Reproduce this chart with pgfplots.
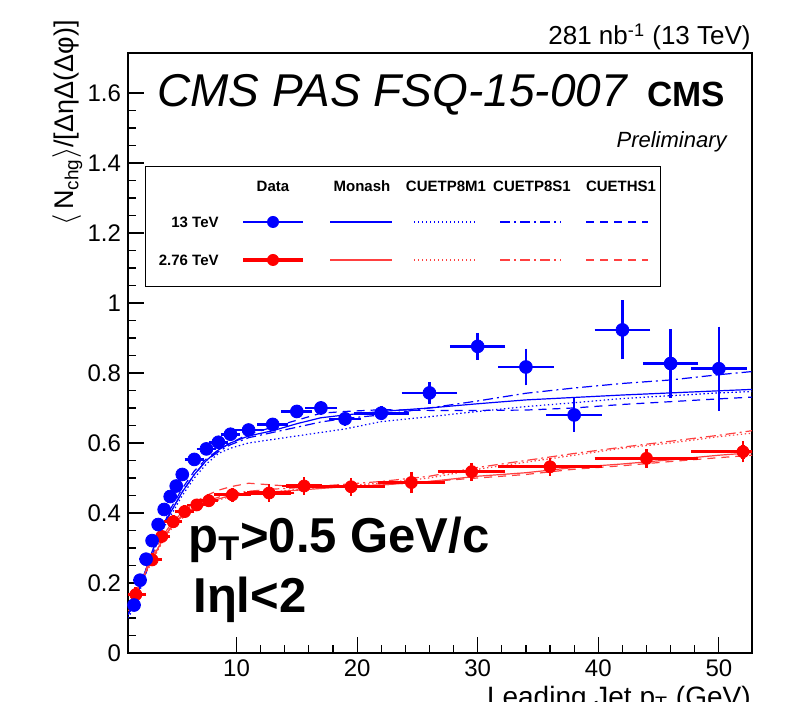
\documentclass[border=0pt]{standalone}
\usepackage{fontspec}
\setmainfont{Liberation Sans}
\usepackage{pgfplots}
\pgfplotsset{compat=1.18}

\begin{document}
\begin{tikzpicture}
\begin{axis}[
  scale only axis, width=312pt, height=300pt,
  xmin=1, xmax=52.75, ymin=0, ymax=1.714,
  axis line style={line width=0.6pt},
  xtick={10,20,30,40,50}, ytick={0,0.2,0.4,0.6,0.8,1,1.2,1.4,1.6},
  yticklabels={0,0.2,0.4,0.6,0.8,1,1.2,1.4,1.6},
  minor x tick num=4, minor y tick num=3,
  tick pos=left, tick align=inside,
  major tick length=8pt, minor tick length=4pt,
  every tick/.style={black, line width=0.6pt},
  /pgf/number format/assume math mode=true,
  tick label style={font=\fontsize{12}{13}\selectfont},
]
% ---- MC curves, 13 TeV
\addplot[blue, line width=0.6pt] coordinates {
 (1,0.11) (1.5,0.14) (2,0.19) (2.5,0.24) (3,0.29) (3.5,0.33) (4,0.37) (4.5,0.40)
 (5,0.43) (5.5,0.46) (6.5,0.51) (7.5,0.55) (8.5,0.58) (9.5,0.60) (11,0.62) (13,0.635)
 (15,0.655) (17,0.672) (19,0.68) (22,0.69) (26,0.70) (30,0.712) (34,0.723) (38,0.73)
 (42,0.737) (46,0.743) (50,0.749) (52.75,0.753)};
\addplot[blue, line width=0.6pt, dash pattern=on 0.7pt off 1.3pt] coordinates {
 (1,0.10) (1.5,0.13) (2,0.18) (2.5,0.23) (3,0.28) (3.5,0.32) (4,0.36) (4.5,0.39)
 (5,0.42) (5.5,0.45) (6.5,0.50) (7.5,0.54) (8.5,0.57) (9.5,0.585) (11,0.60) (13,0.61)
 (15,0.62) (17,0.63) (19,0.64) (22,0.661) (26,0.675) (30,0.69) (34,0.704) (38,0.715)
 (42,0.727) (46,0.735) (50,0.743) (52.75,0.747)};
\addplot[blue, line width=0.6pt, dash pattern=on 5pt off 2pt on 1pt off 2pt] coordinates {
 (1,0.11) (1.5,0.14) (2,0.19) (2.5,0.23) (3,0.28) (3.5,0.32) (4,0.36) (4.5,0.40)
 (5,0.43) (5.5,0.46) (6.5,0.51) (7.5,0.55) (8.5,0.575) (9.5,0.595) (11,0.615) (13,0.63)
 (15,0.645) (17,0.66) (19,0.67) (22,0.68) (26,0.70) (30,0.72) (34,0.742) (38,0.757)
 (42,0.77) (46,0.78) (50,0.795) (52.75,0.804)};
\addplot[blue, line width=0.6pt, dash pattern=on 4pt off 3pt] coordinates {
 (1,0.11) (1.5,0.14) (2,0.19) (2.5,0.24) (3,0.29) (3.5,0.33) (4,0.37) (4.5,0.41)
 (5,0.44) (5.5,0.47) (6.5,0.52) (7.5,0.555) (8.5,0.58) (9.5,0.60) (11,0.625) (13,0.645)
 (15,0.665) (17,0.685) (19,0.69) (22,0.695) (26,0.693) (30,0.693) (34,0.694) (38,0.70)
 (42,0.71) (46,0.718) (50,0.726) (52.75,0.731)};
% ---- MC curves, 2.76 TeV
\addplot[red!75, line width=0.6pt] coordinates {
 (1,0.13) (1.5,0.16) (2,0.20) (2.5,0.235) (3,0.265) (3.5,0.30) (4,0.33) (4.5,0.355)
 (5,0.375) (5.5,0.39) (6.5,0.415) (7.5,0.43) (8.5,0.44) (9.5,0.45) (11,0.455) (13,0.46)
 (15,0.465) (17,0.47) (19,0.475) (22,0.48) (26,0.49) (30,0.505) (34,0.515) (38,0.53)
 (42,0.54) (46,0.552) (50,0.565) (52.75,0.572)};
\addplot[red!75, line width=0.6pt, dash pattern=on 0.7pt off 1.3pt] coordinates {
 (1,0.12) (1.5,0.155) (2,0.195) (2.5,0.23) (3,0.26) (3.5,0.295) (4,0.325) (4.5,0.35)
 (5,0.37) (5.5,0.385) (6.5,0.41) (7.5,0.425) (8.5,0.437) (9.5,0.447) (11,0.455) (13,0.46)
 (15,0.467) (17,0.473) (19,0.478) (22,0.485) (26,0.50) (30,0.525) (34,0.545) (38,0.565)
 (42,0.585) (46,0.60) (50,0.618) (52.75,0.628)};
\addplot[red!75, line width=0.6pt, dash pattern=on 5pt off 2pt on 1pt off 2pt] coordinates {
 (1,0.13) (1.5,0.16) (2,0.20) (2.5,0.235) (3,0.27) (3.5,0.30) (4,0.33) (4.5,0.357)
 (5,0.378) (5.5,0.393) (6.5,0.418) (7.5,0.433) (8.5,0.445) (9.5,0.455) (11,0.462) (13,0.468)
 (15,0.472) (17,0.477) (19,0.482) (22,0.49) (26,0.505) (30,0.53) (34,0.55) (38,0.57)
 (42,0.588) (46,0.605) (50,0.622) (52.75,0.635)};
\addplot[red!75, line width=0.6pt, dash pattern=on 4pt off 3pt] coordinates {
 (1,0.13) (1.5,0.16) (2,0.20) (2.5,0.24) (3,0.275) (3.5,0.31) (4,0.34) (4.5,0.365)
 (5,0.385) (5.5,0.40) (6.5,0.43) (7.5,0.45) (8.5,0.465) (9.5,0.475) (11,0.485) (13,0.48)
 (15,0.475) (17,0.472) (19,0.475) (22,0.48) (26,0.49) (30,0.50) (34,0.51) (38,0.525)
 (42,0.535) (46,0.547) (50,0.558) (52.75,0.565)};
% ---- data, 2.76 TeV
\addplot[red, only marks, mark=*, mark size=3pt, mark options={red, fill=red},
  error bars/.cd, x dir=both, x explicit, y dir=both, y explicit,
  error bar style={red, line width=1.6pt},
  error mark options={red, mark size=1.8pt, line width=1.4pt}]
 coordinates {
 (1.65,0.167) +- (0.55,0.010)
 (3.0,0.266) +- (0.5,0.008)
 (3.8,0.333) +- (0.4,0.008)
 (4.75,0.375) +- (0.45,0.008)
 (5.7,0.404) +- (0.5,0.008)
 (6.7,0.423) +- (0.5,0.008)
 (7.7,0.435) +- (0.5,0.008)
 (9.65,0.452) +- (1.25,0.010)
 (12.7,0.457) +- (1.8,0.015)
 (15.6,0.477) +- (1.5,0.015)
 (19.5,0.475) +- (2.5,0.015)
 (24.5,0.487) +- (2.5,0.020)
 (29.5,0.518) +- (2.5,0.015)
 (36,0.532) +- (4,0.015)
 (44,0.556) +- (4,0.017)
 (52,0.575) +- (4,0.020)
 };
% ---- data, 13 TeV
\addplot[blue, only marks, mark=*, mark size=3.2pt, mark options={blue, fill=blue},
  error bars/.cd, x dir=both, x explicit, y dir=both, y explicit,
  error bar style={blue, line width=1.3pt},
  error mark options={blue, mark size=1.8pt, line width=1.3pt}]
 coordinates {
 (1.5,0.137) +- (0.25,0.005)
 (2.0,0.208) +- (0.25,0.005)
 (2.5,0.268) +- (0.25,0.005)
 (3.0,0.321) +- (0.25,0.005)
 (3.5,0.367) +- (0.25,0.005)
 (4.0,0.410) +- (0.25,0.005)
 (4.5,0.447) +- (0.25,0.005)
 (5.0,0.477) +- (0.25,0.005)
 (5.5,0.510) +- (0.25,0.005)
 (6.5,0.553) +- (0.5,0.005)
 (7.5,0.583) +- (0.5,0.005)
 (8.5,0.602) +- (0.5,0.005)
 (9.5,0.625) +- (0.5,0.006)
 (11,0.637) +- (1,0.007)
 (13,0.653) +- (1,0.008)
 (15,0.690) +- (1,0.009)
 (17,0.700) +- (1,0.010)
 (19,0.669) +- (1,0.010)
 (22,0.685) +- (2,0.010)
 (26,0.743) +- (2,0.020)
 (30,0.876) +- (2,0.028)
 (34,0.817) +- (2,0.042)
 (38,0.680) +- (2,0.038)
 (42,0.923) +- (2,0.074)
 (46,0.827) +- (2,0.087)
 (50,0.812) +- (2,0.110)
 };
\end{axis}

% annotations in pixel units of the reference (1 px = 0.5 pt)
\begin{scope}[x=0.5pt,y=-0.5pt,shift={(-64pt,326.5pt)}]
% titles
\node[anchor=base east, inner sep=0, font=\fontsize{13}{15}\selectfont] at (751,45) {281 nb\textsuperscript{-1} (13 TeV)};
\node[anchor=base west, inner sep=0, font=\itshape\fontsize{23}{26}\selectfont] at (157,107) {CMS PAS FSQ-15-007};
\node[anchor=base west, inner sep=0, font=\bfseries\fontsize{17.5}{20}\selectfont] at (647,107) {CMS};
\node[anchor=base east, inner sep=0, font=\itshape\fontsize{11}{13}\selectfont] at (727,148) {Preliminary};
% axis titles
\node[rotate=90, anchor=base east, inner sep=0, font=\fontsize{13.5}{16}\selectfont] at (74,20)
  {$\langle$\,N\textsubscript{chg}$\rangle$/[ΔηΔ(Δφ)]};
\node[anchor=base east, inner sep=0, font=\fontsize{14}{16}\selectfont] at (751,706)
  {Leading Jet p\textsubscript{T} (GeV)};
% cuts
\node[anchor=base west, inner sep=0, font=\bfseries\fontsize{24.5}{28}\selectfont] at (188,553) {p\textsubscript{T}>0.5 GeV/c};
\node[anchor=base west, inner sep=0, font=\bfseries\fontsize{24.5}{28}\selectfont] at (193,612) {Iηl<2};
% legend
\draw[fill=white, line width=0.5pt] (145,167) rectangle (660,287);
\begin{scope}[font=\bfseries\fontsize{7.5}{9}\selectfont, inner sep=0]
\node at (273,186) {Data};
\node at (362,186) {Monash};
\node at (446,186) {CUETP8M1};
\node at (532,186) {CUETP8S1};
\node at (621,186) {CUETHS1};
\node[anchor=east] at (219,222) {13 TeV};
\node[anchor=east] at (219,260) {2.76 TeV};
\end{scope}
\draw[blue, line width=1.3pt] (243,222) -- (303,222);
\fill[blue] (273,222) circle (3pt);
\draw[blue, line width=0.6pt] (330,222) -- (392,222);
\draw[blue, line width=0.6pt, dash pattern=on 0.7pt off 1.3pt] (414,222) -- (476,222);
\draw[blue, line width=0.6pt, dash pattern=on 5pt off 2pt on 1pt off 2pt] (500,222) -- (561,222);
\draw[blue, line width=0.6pt, dash pattern=on 4pt off 3pt] (586,222) -- (648,222);
\draw[red, line width=1.8pt] (243,260) -- (303,260);
\fill[red] (273,260) circle (3pt);
\draw[red!75, line width=0.6pt] (330,260) -- (392,260);
\draw[red!75, line width=0.6pt, dash pattern=on 0.7pt off 1.3pt] (414,260) -- (476,260);
\draw[red!75, line width=0.6pt, dash pattern=on 5pt off 2pt on 1pt off 2pt] (500,260) -- (561,260);
\draw[red!75, line width=0.6pt, dash pattern=on 4pt off 3pt] (586,260) -- (648,260);
\end{scope}

% page = the reference frame, 791 x 701 px
\pgfresetboundingbox
\path (-64pt,-24pt) rectangle (331.5pt,326.5pt);
\end{tikzpicture}
\end{document}
